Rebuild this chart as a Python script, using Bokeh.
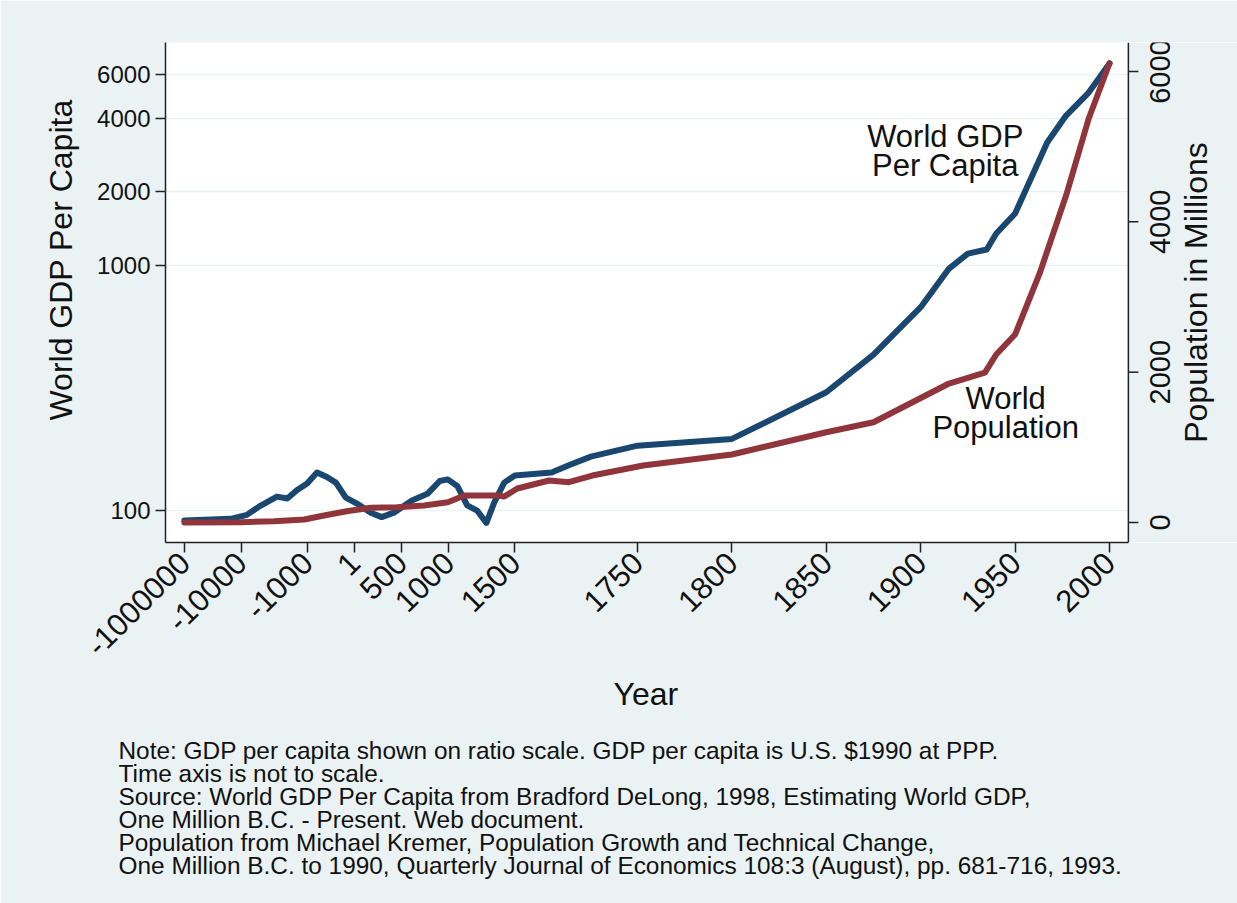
import numpy as np
from bokeh.plotting import figure
from bokeh.models import (Range1d, FixedTicker, Label, LinearScale, Span,
                          BoxAnnotation, PrintfTickFormatter, Title)
from bokeh.embed import file_html
from bokeh.resources import INLINE

# Time axis is not to scale: each labelled year sits on a fixed slot of the axis
tick_years = [-1000000, -10000, -1000, 1, 500, 1000, 1500, 1750, 1800, 1850, 1900, 1950, 2000]
tick_slots = [0, 6, 13, 18, 23, 28, 35, 48, 58, 68, 78, 88, 98]
tick_labels = [str(y) for y in tick_years]

gdp_ticks = [100, 1000, 2000, 4000, 6000]
pop_ticks = [0, 2000, 4000, 6000]

# World GDP per capita (US $1990 at PPP)
gdp_years = [-1000000, -190000, -9200, -7500, -5100, -3700, -2400, -1000, -790, -580,
             -390, -180, 25, 175, 290, 420, 610, 775, 905, 990,
             1065, 1140, 1215, 1285, 1345, 1420, 1500, 1575, 1610, 1655,
             1750, 1800, 1850, 1875, 1900, 1915, 1925, 1935, 1940, 1950,
             1956, 1967, 1977, 1989, 2000]
gdp_values = [91, 92.5, 96, 104, 114, 112, 121, 129, 143, 137,
              130, 113, 107, 98, 94, 98, 110, 117, 132, 134,
              126, 105, 100, 89, 108, 130, 139, 143, 153, 166,
              184, 196, 304, 433, 676, 972, 1119, 1162, 1351, 1630,
              2062, 3177, 4093, 5083, 6676]

# World population (millions)
pop_years = [-1000000, -10000, -5500, -1400, -640, -160, 175, 450, 740, 990,
             1120, 1365, 1420, 1505, 1570, 1610, 1658, 1753, 1800, 1850,
             1875, 1915, 1934, 1940, 1950, 1963, 1977, 1989, 2000]
pop_values = [0, 4, 17, 40, 93, 150, 196, 204, 226, 270,
              359, 359, 346, 452, 559, 536, 625, 758, 905, 1201,
              1334, 1849, 1995, 2235, 2501, 3313, 4350, 5375, 6110]

note_lines = [
    "Note: GDP per capita shown on ratio scale. GDP per capita is U.S. $1990 at PPP.",
    "Time axis is not to scale.",
    "Source: World GDP Per Capita from Bradford DeLong, 1998, Estimating World GDP,",
    "One Million B.C. - Present. Web document.",
    "Population from Michael Kremer, Population Growth and Technical Change,",
    "One Million B.C. to 1990, Quarterly Journal of Economics 108:3 (August), pp. 681-716, 1993.",
]


def time_axis(years):
    """Place years on the piecewise (not-to-scale) time axis."""
    return np.interp(years, tick_years, tick_slots)


BG = "#EAF2F3"
NAVY = "#1A476F"
MAROON = "#90353B"
INK = "#111111"
AXIS = "#222222"
FONT = "Liberation Sans"

W, H = 1237, 903
LEFT, TOP, BOTTOM = 165, 42, 361
PX_PER_SLOT = 9.44                      # horizontal scale of the time axis
X_START, X_PLOT_END = -2, 100           # plot region along the time axis
X_END = X_START + (W - LEFT) / PX_PER_SLOT   # frame runs on to the right edge


def px_to_slots(px):
    return px / PX_PER_SLOT


pop_rng = Range1d(-266, 6386)

p = figure(width=W, height=H,
           x_range=Range1d(X_START, X_END), y_range=Range1d(74.05, 8134),
           y_axis_type="log", output_backend="svg", toolbar_location=None,
           min_border_left=LEFT, min_border_right=0,
           min_border_top=TOP, min_border_bottom=BOTTOM,
           background_fill_color="white", border_fill_color=BG,
           outline_line_color=None)

p.extra_y_ranges = {"pop": pop_rng}
p.extra_y_scales = {"pop": LinearScale()}

# grid only along the GDP axis
p.xgrid.visible = False
p.ygrid.ticker = FixedTicker(ticks=gdp_ticks)
p.ygrid.grid_line_color = BG
p.ygrid.grid_line_width = 1.5

# margin to the right of the plot region, holding the population axis
p.add_layout(BoxAnnotation(left=X_PLOT_END, fill_color=BG, fill_alpha=1,
                           line_color=None, level="underlay"))

# left axis: GDP per capita on a ratio scale
ya = p.yaxis[0]
ya.ticker = FixedTicker(ticks=gdp_ticks)
ya.formatter = PrintfTickFormatter(format="%d")
ya.major_label_text_font_size = "24px"

# bottom axis: years
xa = p.xaxis[0]
xa.bounds = (X_START, X_PLOT_END)
xa.ticker = FixedTicker(ticks=tick_slots)
xa.major_label_overrides = {s: l for s, l in zip(tick_slots, tick_labels)}
xa.major_label_orientation = np.pi / 4
xa.major_label_text_font_size = "31px"

for ax in (xa, ya):
    ax.minor_tick_line_color = None
    ax.axis_line_color = AXIS
    ax.axis_line_width = 1.5
    ax.major_tick_line_color = AXIS
    ax.major_tick_line_width = 1.5
    ax.major_tick_out = 10
    ax.major_tick_in = 0
    ax.major_label_text_font = FONT
    ax.major_label_text_color = INK
    ax.major_label_standoff = 5

# right axis: population in millions
p.add_layout(Span(location=X_PLOT_END, dimension="height", line_color=AXIS,
                  line_width=1.5))
p.segment(x0=[X_PLOT_END] * len(pop_ticks), x1=[X_PLOT_END + px_to_slots(10)] * len(pop_ticks),
          y0=pop_ticks, y1=pop_ticks, y_range_name="pop", line_color=AXIS, line_width=1.5)
for t in pop_ticks:
    p.add_layout(Label(x=X_PLOT_END + px_to_slots(32), y=t, y_range_name="pop",
                       text=str(t), angle=np.pi / 2, text_align="center",
                       text_baseline="middle", text_font=FONT,
                       text_font_size="29px", text_color=INK))
p.add_layout(Label(x=X_PLOT_END + px_to_slots(68), y=(pop_rng.start + pop_rng.end) / 2,
                   y_range_name="pop", text="Population in Millions", angle=np.pi / 2,
                   text_align="center", text_baseline="middle", text_font=FONT,
                   text_font_size="32px", text_color=INK))

# axis titles
p.add_layout(Title(text="World GDP Per Capita", align="left", offset=122,
                   standoff=32, text_font=FONT, text_font_size="32px",
                   text_font_style="normal", text_color=INK), "left")
p.add_layout(Title(text="Year", align="left", offset=448, standoff=10,
                   text_font=FONT, text_font_size="32px",
                   text_font_style="normal", text_color=INK), "below")

# the two series
p.line(time_axis(gdp_years), gdp_values, line_color=NAVY, line_width=6,
       line_join="round", line_cap="round")
p.line(time_axis(pop_years), pop_values, y_range_name="pop", line_color=MAROON,
       line_width=6, line_join="round", line_cap="round")

# series labels next to the curves
for txt, y in (("World GDP", 3362), ("Per Capita", 2559)):
    p.add_layout(Label(x=80.6, y=y, text=txt, text_align="center",
                       text_baseline="middle", text_font=FONT,
                       text_font_size="31px", text_color=INK))
for txt, y in (("World", 1650), ("Population", 1264)):
    p.add_layout(Label(x=87.0, y=y, y_range_name="pop", text=txt, text_align="center",
                       text_baseline="middle", text_font=FONT,
                       text_font_size="31px", text_color=INK))

# note block under the chart
p.add_layout(Title(text="\n".join(note_lines), align="left", offset=-47, standoff=36,
                   text_font=FONT, text_font_size="24.4px", text_line_height=0.857,
                   text_font_style="normal", text_color=INK), "below")

open("out.html", "w").write(file_html(p, INLINE))
